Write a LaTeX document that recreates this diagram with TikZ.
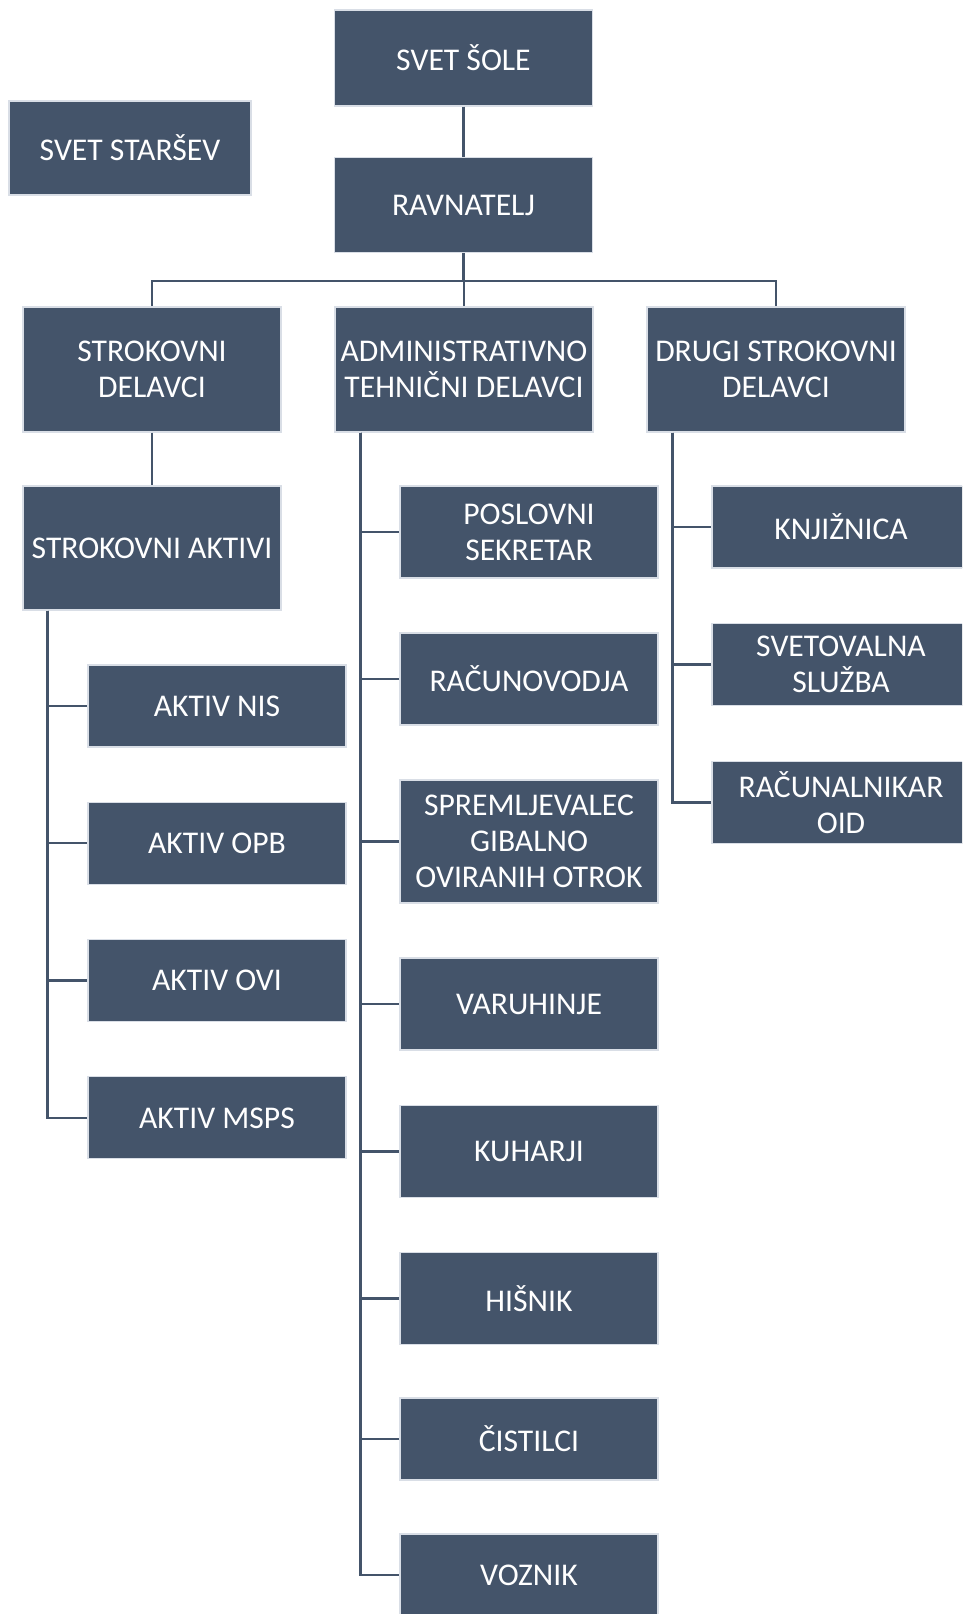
\documentclass[tikz,border=0pt]{standalone}
\usepackage{fontspec}
\setmainfont{Carlito}
\usepackage{xcolor}
\usetikzlibrary{positioning}
\definecolor{unitblue}{HTML}{44546A}
\definecolor{unitedge}{HTML}{D9DEE6}

\begin{document}
\begin{tikzpicture}[x=0.025cm, y=-0.025cm,
  every unit/.style={rectangle, fill=unitblue, draw=unitedge, line width=0.8pt,
    text=white, align=center, inner sep=0pt, minimum width=6.45cm,
    font=\fontsize{22.5}{25.6}\selectfont},
  link/.style={draw=unitblue, line width=1.6pt}]

\clip (0,0) rectangle (962,1614);

\node [every unit, minimum height=2.4cm] (svet-sole) at (463.5,58) {SVET ŠOLE};
\node [every unit, minimum width=6.05cm, minimum height=2.35cm] (svet-starsev) at (130,148) {SVET STARŠEV};
\node [every unit, minimum height=2.375cm] (ravnatelj) at (463.5,205) {RAVNATELJ};

\foreach \t [count=\i] in {STROKOVNI\\DELAVCI, ADMINISTRATIVNO\\TEHNIČNI DELAVCI, DRUGI STROKOVNI\\DELAVCI}
  \node [every unit, minimum height=3.125cm] (group-\i) at (152+\i*312-312,369.5) {\t};

\node [every unit, minimum height=3.1cm] (aktivi) at (152,548) {STROKOVNI AKTIVI};

\foreach \t [count=\i] in {AKTIV NIS, AKTIV OPB, AKTIV OVI, AKTIV MSPS}
  \node [every unit, minimum height=2.05cm] (aktiv-\i) at (217,706+\i*137.3-137.3) {\t};

\foreach \t/\y/\h [count=\i] in {POSLOVNI\\SEKRETAR/532/2.3, RAČUNOVODJA/679/2.3,
    SPREMLJEVALEC\\GIBALNO\\OVIRANIH OTROK/841.5/3.075, VARUHINJE/1004/2.3,
    KUHARJI/1151.5/2.3, HIŠNIK/1298.5/2.3, ČISTILCI/1439/2.05, VOZNIK/1575/2.05}
  \node [every unit, minimum height=\h cm] (admin-\i) at (529,\y) {\t};

\foreach \t/\y [count=\i] in {KNJIŽNICA/527, SVETOVALNA\\SLUŽBA/664.5, RAČUNALNIKAR\\OID/802.5}
  \node [every unit, minimum height=2.05cm] (drugi-\i) at (841,\y) {\t};

\draw [link] (svet-sole) -- (ravnatelj);

\foreach \i in {1,2,3}
  \draw [link] (ravnatelj.south) -- ++(0,28) -| (group-\i.north);

\draw [link] (group-1) -- (aktivi);

\foreach \i in {1,...,4}
  \draw [link] ([xshift=0.625cm]aktivi.south west) |- (aktiv-\i.west);

\foreach \i in {1,...,8}
  \draw [link] ([xshift=0.65cm]group-2.south west) |- (admin-\i.west);

\foreach \i in {1,...,3}
  \draw [link] ([xshift=0.65cm]group-3.south west) |- (drugi-\i.west);

\end{tikzpicture}
\end{document}
